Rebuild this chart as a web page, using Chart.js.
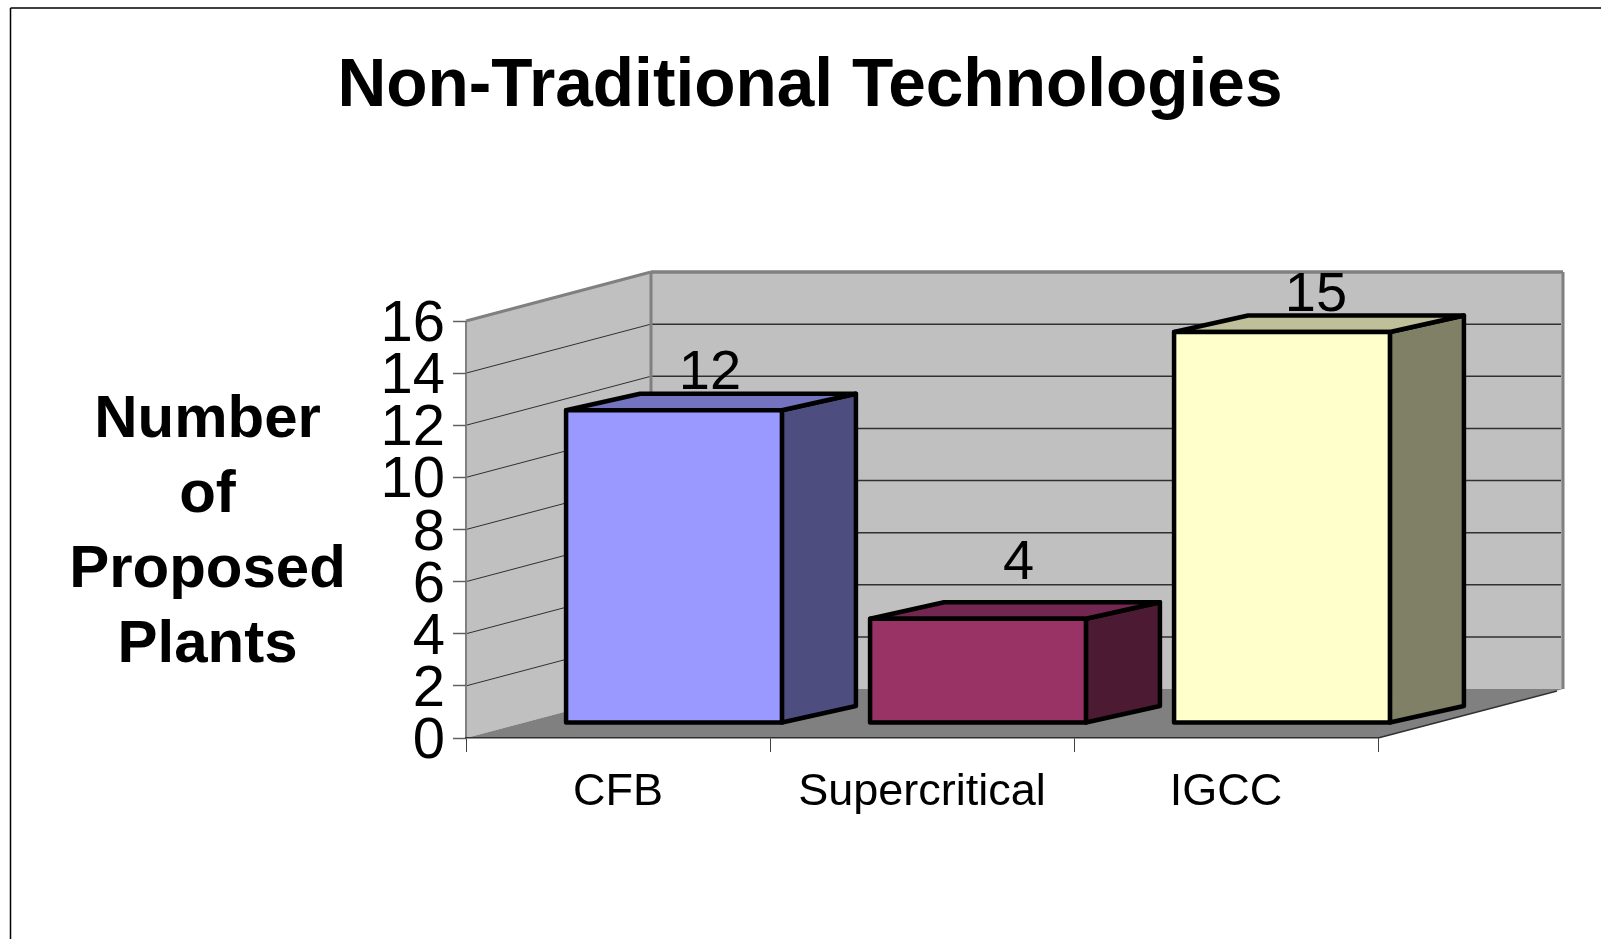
<!DOCTYPE html>
<html lang="en">
<head>
    <meta charset="UTF-8">
    <title>Non-Traditional Technologies</title>
    <style>
        body { margin: 0; background-color: white; }
        canvas { display: block; }
    </style>
</head>
<body>
    <canvas id="plants-chart" width="1601" height="939"></canvas>

    <script src="https://cdn.jsdelivr.net/npm/chart.js"></script>
    <script>
        const categories = ['CFB', 'Supercritical', 'IGCC'];
        const plantCounts = [12, 4, 15];
        const chartTitle = 'Non-Traditional Technologies';
        const yAxisLines = ['Number', 'of', 'Proposed', 'Plants'];

        const frontColors = ['#9999FF', '#993366', '#FFFFCC'];
        const sideColors = ['#4D4D80', '#4D1A33', '#808066'];
        const topColors = ['#7373BF', '#732650', '#BFBF99'];

        const FONT = "'Liberation Sans', Arial, sans-serif";
        // depth of the box the chart stands in, and of the bars inside it
        const wallDepth = { x: 185, y: -49 };
        const barDepth = { x: 74, y: -16.5 };
        const barShift = { x: 56, y: -15 };
        // value labels do not sit at a fixed distance in the original
        const labelShift = [{ x: 36, y: 21 }, { x: 40.5, y: 40 }, { x: 34, y: 21 }];

        function polygon(ctx, points, fill) {
            ctx.beginPath();
            points.forEach((p, i) => i ? ctx.lineTo(p[0], p[1]) : ctx.moveTo(p[0], p[1]));
            ctx.closePath();
            if (fill) {
                ctx.fillStyle = fill;
                ctx.fill();
            }
        }

        function line(ctx, x1, y1, x2, y2, color, width) {
            ctx.beginPath();
            ctx.moveTo(x1, y1);
            ctx.lineTo(x2, y2);
            ctx.strokeStyle = color;
            ctx.lineWidth = width;
            ctx.stroke();
        }

        // frame, texts outside the plot, and the walls and floor
        const boxPlugin = {
            id: 'box',
            beforeDraw(chart) {
                const ctx = chart.ctx;
                const { x: xScale, y: yScale } = chart.scales;
                const l = xScale.left, r = xScale.right;
                const t = yScale.top, b = yScale.bottom;
                const dx = wallDepth.x, dy = wallDepth.y;

                ctx.save();
                ctx.fillStyle = 'white';
                ctx.fillRect(0, 0, chart.width, chart.height);

                line(ctx, 10.5, 939, 10.5, 8, '#000', 1.5);
                line(ctx, 10.5, 8, 1601, 8, '#000', 1.5);

                ctx.fillStyle = '#000';
                ctx.textAlign = 'center';
                ctx.textBaseline = 'alphabetic';
                ctx.font = 'bold 67.6px ' + FONT;
                ctx.fillText(chartTitle, 810, 106);
                ctx.font = 'bold 60px ' + FONT;
                yAxisLines.forEach((txt, i) => ctx.fillText(txt, 207.5, 436.7 + i * 75));

                polygon(ctx, [[l, b], [l, t], [l + dx, t + dy], [l + dx, b + dy]], '#C0C0C0');
                polygon(ctx, [[l + dx, t + dy], [r + dx, t + dy], [r + dx, b + dy], [l + dx, b + dy]], '#C0C0C0');
                polygon(ctx, [[l, b], [l + dx, b + dy], [r + dx, b + dy], [r, b]], '#808080');

                yScale.ticks.forEach(tick => {
                    if (tick.value === 0 || tick.value === 16) return;
                    const y = yScale.getPixelForValue(tick.value);
                    line(ctx, l, y, l + dx, y + dy, '#303030', 1);
                    line(ctx, l + dx, y + dy, r + dx - 2, y + dy, '#303030', 1.5);
                });

                line(ctx, l, t, l + dx, t + dy, '#808080', 3);
                line(ctx, l + dx, t + dy, r + dx, t + dy, '#808080', 3.5);
                line(ctx, l + dx, t + dy, l + dx, b + dy, '#808080', 3);
                line(ctx, r + dx, t + dy, r + dx, b + dy, '#808080', 3);
                line(ctx, l, t, l, b, '#808080', 2);
                line(ctx, r, b, r + dx - 6, b + dy + 2, '#303030', 1.5);
                ctx.restore();
            },
            // the y tick labels sit a little lower than the library centres them
            afterDatasetsDraw(chart) {
                chart.ctx.save();
                chart.ctx.translate(0, 4);
            },
            afterDraw(chart) {
                chart.ctx.restore();
            }
        };

        // the library draws the front faces; this adds labels, depth and outlines
        const barsPlugin = {
            id: 'bars3d',
            beforeDatasetDraw(chart, args) {
                const ctx = chart.ctx;
                const bars = args.meta.data;
                ctx.save();
                ctx.lineJoin = 'round';

                ctx.fillStyle = '#000';
                ctx.font = '56px ' + FONT;
                ctx.textAlign = 'center';
                ctx.textBaseline = 'alphabetic';
                bars.forEach((bar, i) => {
                    ctx.fillText(String(plantCounts[i]),
                        bar.x + barShift.x + labelShift[i].x,
                        bar.y + barShift.y - labelShift[i].y);
                });

                ctx.strokeStyle = '#000';
                ctx.lineWidth = 4.5;
                bars.forEach((bar, i) => {
                    const x1 = bar.x + barShift.x - bar.width / 2;
                    const x2 = x1 + bar.width;
                    const y1 = bar.y + barShift.y;
                    const y2 = bar.base + barShift.y;
                    const bx = barDepth.x, by = barDepth.y;
                    polygon(ctx, [[x2, y1], [x2 + bx, y1 + by], [x2 + bx, y2 + by], [x2, y2]], sideColors[i]);
                    ctx.stroke();
                    polygon(ctx, [[x1, y1], [x1 + bx, y1 + by], [x2 + bx, y1 + by], [x2, y1]], topColors[i]);
                    ctx.stroke();
                });
                ctx.restore();

                ctx.save();
                ctx.translate(barShift.x, barShift.y);
            },
            afterDatasetDraw(chart, args) {
                const ctx = chart.ctx;
                ctx.restore();
                ctx.save();
                ctx.strokeStyle = '#000';
                ctx.lineWidth = 4.5;
                ctx.lineJoin = 'round';
                args.meta.data.forEach(bar => {
                    ctx.strokeRect(bar.x + barShift.x - bar.width / 2, bar.y + barShift.y,
                        bar.width, bar.base - bar.y);
                });
                ctx.restore();
            }
        };

        new Chart(document.getElementById('plants-chart').getContext('2d'), {
            type: 'bar',
            data: {
                labels: categories,
                datasets: [{
                    label: 'Number of Proposed Plants',
                    data: plantCounts,
                    backgroundColor: frontColors,
                    borderWidth: 0,
                    inflateAmount: 0,
                    barPercentage: 0.71,
                    categoryPercentage: 1,
                    clip: false
                }]
            },
            options: {
                responsive: false,
                animation: false,
                layout: { padding: { top: 321, right: 223, bottom: 0, left: 0 } },
                plugins: {
                    legend: { display: false },
                    title: { display: false },
                    tooltip: { enabled: false }
                },
                scales: {
                    x: {
                        afterFit: scale => { scale.height = 201; },
                        grid: { drawOnChartArea: false, tickLength: 14, tickColor: '#404040', tickWidth: 1 },
                        border: { display: true, color: '#303030', width: 1.5 },
                        ticks: {
                            color: '#000',
                            font: { family: FONT, size: 45 },
                            padding: 14,
                            autoSkip: false,
                            maxRotation: 0
                        }
                    },
                    y: {
                        min: 0,
                        max: 16,
                        afterFit: scale => { scale.width = 466; },
                        grid: { drawOnChartArea: false, tickLength: 13, tickColor: '#606060', tickWidth: 1.5 },
                        border: { display: false },
                        ticks: {
                            stepSize: 2,
                            autoSkip: false,
                            z: 1,
                            color: '#000',
                            font: { family: FONT, size: 58 },
                            padding: 8
                        }
                    }
                }
            },
            plugins: [boxPlugin, barsPlugin]
        });
    </script>
</body>
</html>
